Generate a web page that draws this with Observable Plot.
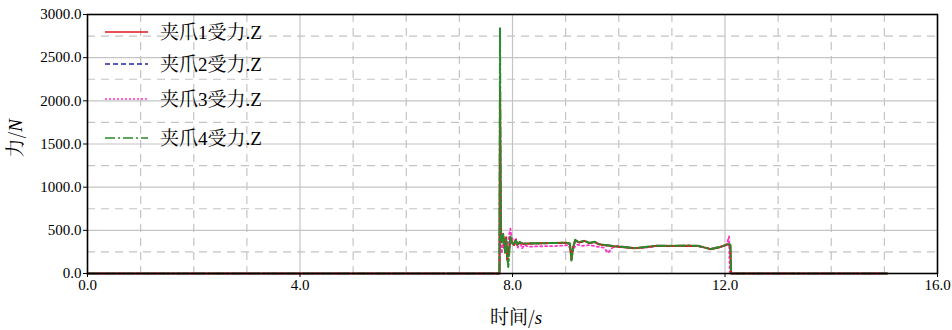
<!DOCTYPE html>
<html>
<head>
<meta charset="utf-8">
<script src="https://cdn.jsdelivr.net/npm/d3@7"></script>
<script src="https://cdn.jsdelivr.net/npm/@observablehq/plot@0.6"></script>
<style>
  html, body { margin: 0; padding: 0; background: #fff; }
  #chart { width: 952px; height: 330px; }
</style>
</head>
<body>
<div id="chart"></div>
<script>
// ---- data ----
const seriesNames = ["夹爪1受力.Z", "夹爪2受力.Z", "夹爪3受力.Z", "夹爪4受力.Z"];
const xTicksMajor = [0, 4, 8, 12, 16];
const xTicksMinor = [1, 2, 3, 5, 6, 7, 9, 10, 11, 13, 14, 15];
const yTicksMajor = [0, 500, 1000, 1500, 2000, 2500, 3000];
const yTicksMinor = [250, 750, 1250, 1750, 2250, 2750];
const xTitle = "时间/";
const xTitleUnit = "s";
const yTitle = "力/";
const yTitleUnit = "N";

const timeA = [0, 7.755, 7.765, 7.78, 7.80, 7.82, 7.84, 7.86, 7.88, 7.90, 7.92, 7.94, 7.96, 7.98, 8.00, 8.03, 8.06, 8.09, 8.13, 8.2, 8.4, 8.7, 9.0, 9.08, 9.11, 9.14, 9.18, 9.25, 9.35, 9.45, 9.55, 9.62, 9.72, 9.8, 9.9, 10.1, 10.3, 10.5, 10.7, 11.0, 11.3, 11.5, 11.73, 11.9, 12.05, 12.1, 12.115, 15.05];
const force1 = [0, 0, 2150, 420, 370, 460, 380, 260, 420, 160, 240, 300, 420, 380, 350, 330, 390, 330, 360, 345, 348, 352, 355, 345, 160, 300, 385, 360, 378, 352, 365, 340, 330, 325, 315, 305, 292, 305, 320, 318, 322, 318, 282, 305, 338, 330, 0, 0];
const force2 = [0, 0, 2140, 410, 370, 450, 380, 270, 410, 170, 250, 300, 410, 380, 350, 332, 385, 332, 358, 345, 348, 350, 352, 343, 170, 300, 380, 358, 375, 350, 362, 338, 328, 322, 314, 304, 293, 304, 318, 317, 320, 316, 284, 304, 335, 328, 0, 0];
const force4 = [0, 0, 2840, 430, 360, 470, 360, 240, 400, 200, 75, 250, 430, 370, 345, 335, 395, 335, 362, 348, 350, 353, 356, 347, 150, 290, 390, 362, 380, 355, 367, 342, 333, 327, 317, 307, 294, 307, 322, 320, 324, 320, 284, 307, 340, 332, 0, 0];
const timeP = [0, 7.755, 7.765, 7.78, 7.80, 7.82, 7.84, 7.86, 7.88, 7.91, 7.94, 7.96, 7.98, 8.01, 8.04, 8.07, 8.10, 8.14, 8.18, 8.22, 8.3, 8.5, 8.8, 9.05, 9.12, 9.16, 9.22, 9.3, 9.45, 9.6, 9.72, 9.8, 9.86, 9.95, 10.1, 10.3, 10.5, 10.7, 11.0, 11.3, 11.5, 11.73, 11.9, 12.03, 12.075, 12.09, 15.05];
const force3 = [0, 0, 2150, 300, 230, 420, 300, 380, 260, 330, 460, 520, 430, 380, 340, 400, 300, 370, 290, 330, 310, 315, 318, 328, 250, 300, 335, 320, 330, 310, 300, 238, 290, 318, 310, 296, 300, 316, 318, 320, 316, 286, 308, 332, 430, 0, 0];

const colors = ["#e3141c", "#23239a", "#ff33c8", "#2b8a2b"];
const dashes = [null, "5,3", "2,2", "10,3,2,3"];

// ---- build tables ----
const toRows = (times, vals) => times.map((t, i) => ({t, v: vals[i]}));
const rows1 = toRows(timeA, force1);
const rows2 = toRows(timeA, force2);
const rows3 = toRows(timeP, force3);
const rows4 = toRows(timeA, force4);

const gridColor = "#c4c4c4";
const fmt = d => d.toFixed(1);
const fontFam = "Liberation Serif, Noto Serif CJK SC, serif";
const cjkFam = "Noto Serif CJK SC, Liberation Serif, serif";

const chart = Plot.plot({
  width: 952,
  height: 330,
  marginLeft: 87,
  marginRight: 15,
  marginTop: 14,
  marginBottom: 57,
  x: {domain: [0, 16]},
  y: {domain: [0, 3000]},
  style: {
    fontFamily: fontFam,
    fontSize: "15px",
    color: "#000",
    background: "#fff"
  },
  marks: [
    Plot.ruleX(xTicksMinor, {stroke: gridColor, strokeWidth: 1.2, strokeDasharray: "8,6"}),
    Plot.ruleX(xTicksMajor.slice(1, -1), {stroke: gridColor, strokeWidth: 1.2}),
    Plot.ruleY(yTicksMinor, {stroke: gridColor, strokeWidth: 1.2, strokeDasharray: "8,6"}),
    Plot.ruleY(yTicksMajor.slice(1, -1), {stroke: gridColor, strokeWidth: 1.2}),
    Plot.line(rows2, {x: "t", y: "v", stroke: colors[1], strokeWidth: 1.6, strokeDasharray: dashes[1]}),
    Plot.line(rows3, {x: "t", y: "v", stroke: colors[2], strokeWidth: 1.8, strokeDasharray: "2,3"}),
    Plot.line(rows1, {x: "t", y: "v", stroke: colors[0], strokeWidth: 2}),
    Plot.line(rows4, {x: "t", y: "v", stroke: colors[3], strokeWidth: 2, strokeDasharray: dashes[3]}),
    Plot.frame({stroke: "#000", strokeWidth: 1.6}),
    Plot.axisX({ticks: xTicksMajor, tickFormat: fmt, tickSize: 4, tickPadding: 2, label: null, fontSize: 15, fontFamily: fontFam}),
    Plot.axisY({ticks: yTicksMajor, tickFormat: fmt, tickSize: 4, tickPadding: 2, label: null, fontSize: 15, fontFamily: fontFam})
  ]
});

document.getElementById("chart").appendChild(chart);

// ---- titles & legend (pixel layout) ----
const svg = d3.select(chart);
const sx = chart.scale("x"), sy = chart.scale("y");

const xt = svg.append("text")
  .attr("x", sx.apply(8) + 4).attr("y", 324)
  .attr("text-anchor", "middle")
  .attr("font-family", cjkFam).attr("font-size", 19).attr("fill", "#000");
xt.append("tspan").text(xTitle);
xt.append("tspan").attr("font-style", "italic").attr("font-family", fontFam).text(xTitleUnit);

const yt = svg.append("text")
  .attr("transform", `translate(22, ${sy.apply(1560)}) rotate(-90)`)
  .attr("text-anchor", "middle")
  .attr("font-family", cjkFam).attr("font-size", 19).attr("fill", "#000");
yt.append("tspan").text(yTitle);
yt.append("tspan").attr("font-style", "italic").attr("font-family", fontFam).text(yTitleUnit);

const legendY = [32, 64, 99, 138];
const lg = svg.append("g");
seriesNames.forEach((name, i) => {
  const y = legendY[i];
  lg.append("line")
    .attr("x1", 105).attr("x2", 148).attr("y1", y).attr("y2", y)
    .attr("stroke", colors[i]).attr("stroke-width", 1.6)
    .attr("stroke-dasharray", dashes[i]);
  lg.append("text")
    .attr("x", 160).attr("y", y).attr("dy", "0.36em")
    .attr("text-anchor", "start")
    .attr("font-family", fontFam).attr("font-size", 19).attr("fill", "#000")
    .text(name);
});
</script>
</body>
</html>
